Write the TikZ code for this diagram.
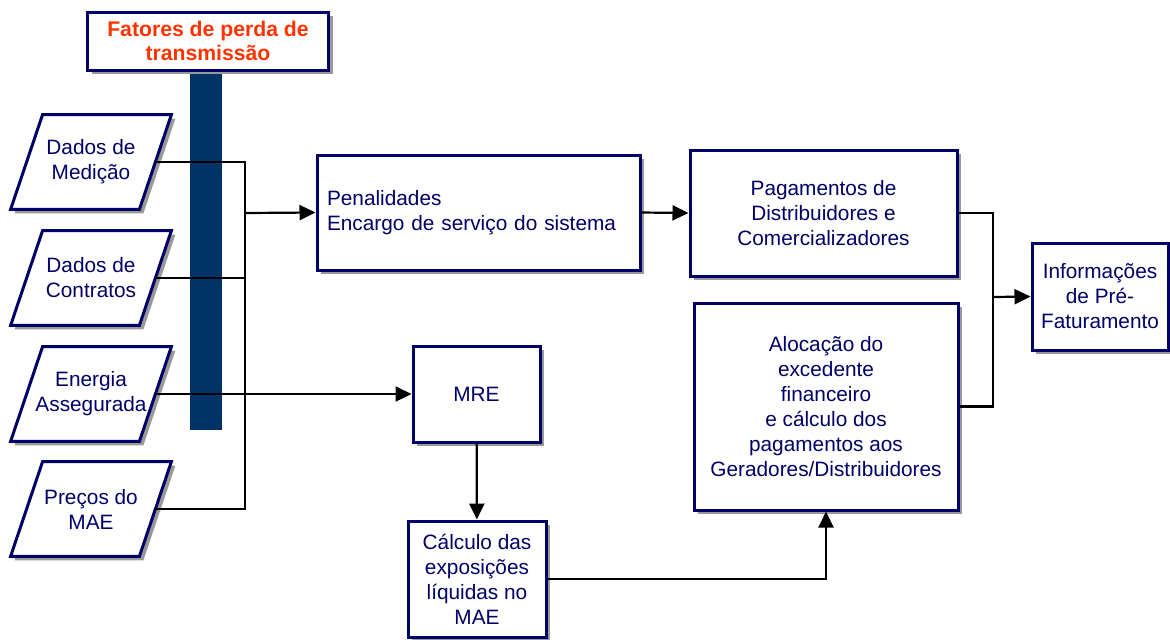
\documentclass[tikz,border=0pt]{standalone}
\usepackage{fontspec}
\setmainfont{Liberation Sans}
\usepackage{xcolor}
\usetikzlibrary{positioning, arrows.meta, shadows, backgrounds}
\definecolor{navy}{HTML}{000066}
\definecolor{barblue}{HTML}{003366}
\definecolor{titlered}{HTML}{FF3300}
\begin{document}
\begin{tikzpicture}[x=0.5pt, y=-0.5pt,
        font=\fontsize{10.4}{12.5}\selectfont, text=navy,
        shd/.style={drop shadow={shadow xshift=2pt, shadow yshift=-2pt, fill=black!40, opacity=1}},
        blk/.style={draw=navy, line width=1.5pt, fill=white, align=center, inner sep=0pt, shd},
        inp/.style={align=center, inner sep=0pt, minimum width=64pt, minimum height=47pt},
        pbox/.style={draw=navy, line width=1.5pt, fill=white, line join=miter, shd},
        ln/.style={line width=1.1pt, draw=black},
        arr/.style={ln, -{Triangle[length=8pt, width=7.5pt]}}]
    \useasboundingbox (0,0) rectangle (1170,639);

    % entradas
    \node[fill=barblue, minimum width=16pt, minimum height=180pt, inner sep=0pt] (bar) at (206,250) {};
    \node[blk, minimum width=120.5pt, minimum height=29pt, text=titlered,
        font=\bfseries\fontsize{10.6}{12.3}\selectfont] (fat) at (208,41) {Fatores de perda de\\transmissão};
    \node[inp] (med) at (91,162) {Dados de\\Medição};
    \node[inp] (con) at (91,278) {Dados de\\Contratos};
    \node[inp] (ene) at (91,394) {Energia\\Assegurada};
    \node[inp] (pre) at (91,509) {Preços do\\MAE};
    \begin{scope}[on background layer]
        \foreach \n in {med,con,ene,pre}
            \draw[pbox] ([xshift=8pt]\n.north west) -- ([xshift=8pt]\n.north east)
                -- ([xshift=-8pt]\n.south east) -- ([xshift=-8pt]\n.south west) -- cycle;
    \end{scope}

    % processos
    \node[blk, minimum width=161.5pt, minimum height=57.5pt, align=left, text width=151.5pt,
        inner xsep=5pt] (pen) at (478.5,212.5) {Penalidades\\Encargo de serviço do sistema};
    \node[blk, minimum width=133.5pt, minimum height=63pt] (pag) at (823.5,213) {Pagamentos de\\Distribuidores e\\Comercializadores};
    \node[blk, minimum width=132pt, minimum height=103.5pt] (alo) at (826,406.5) {Alocação do\\excedente\\financeiro\\e cálculo dos\\pagamentos aos\\Geradores/Distribuidores};
    \node[blk, minimum width=68pt, minimum height=53.5pt] (info) at (1100,296.5) {Informações\\de Pré-\\Faturamento};
    \node[blk, minimum width=63.5pt, minimum height=48pt] (mre) at (476.5,394) {MRE};
    \node[blk, minimum width=69pt, minimum height=58pt] (calc) at (477,579) {Cálculo das\\exposições\\líquidas no\\MAE};

    \coordinate (hub) at (245,213);
    \coordinate (mrg) at (993,297);

    % ligacoes
    \draw[ln] (med.east) -| (hub);
    \draw[ln] (con.east) -| (hub);
    \draw[ln] (pre.east) -| (hub);
    \draw[arr] (hub) -- (pen.west);
    \draw[arr] (ene.east) -- (mre.west);
    \draw[arr] (mre) -- (calc);
    \draw[arr] (calc.east) -| (alo.south);
    \draw[arr] (pen.east) -- (pag.west);
    \draw[ln] (pag.east) -| (mrg);
    \draw[ln] (alo.east) -| (mrg);
    \draw[arr] (mrg) -- (info.west);
\end{tikzpicture}
\end{document}
